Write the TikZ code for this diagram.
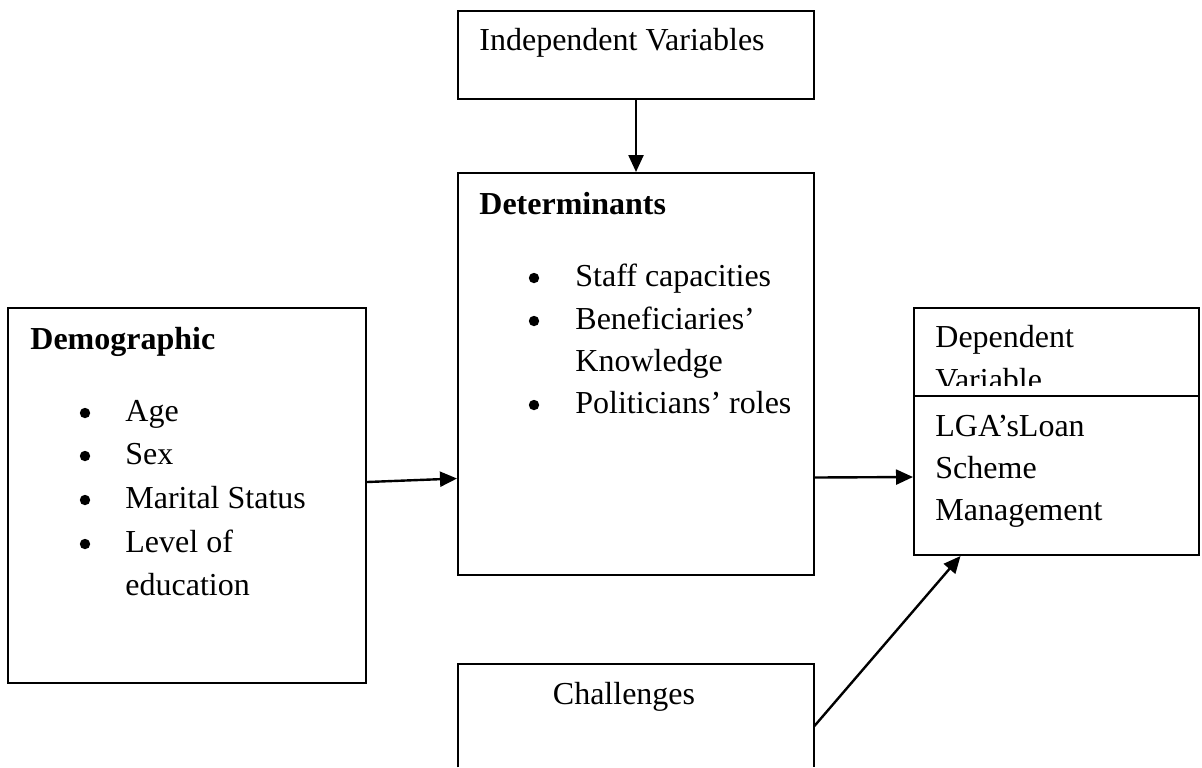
\documentclass[tikz,border=0pt]{standalone}
\usepackage{fontspec}
\setmainfont{Liberation Serif}
\usetikzlibrary{arrows.meta}
\begin{document}
\begin{tikzpicture}[x=0.5pt,y=-0.5pt,
  box/.style={draw=black,line width=1pt,inner sep=0pt},
  open/.style={inner sep=0pt},
  txt/.style={anchor=base west,inner sep=0pt,font=\fontsize{16pt}{21.5pt}\selectfont},
  btxt/.style={txt,font=\fontsize{16pt}{21.5pt}\selectfont\bfseries},
  bul/.style={circle,fill=black,inner sep=0pt,minimum size=5.2pt},
  arr/.style={line width=1.2pt,-{Triangle[length=8.5pt,width=7.5pt]}}]
\useasboundingbox (0,0) rectangle (1202,767);
% boxes
\node[box,minimum width=178pt,minimum height=44pt] (ind) at (636,55) {};
\node[box,minimum width=178pt,minimum height=201pt] (det) at (636,374) {};
\node[box,minimum width=179pt,minimum height=187.5pt] (demo) at (187,495.5) {};
\node[box,minimum width=142.5pt,minimum height=44pt] (depT) at (1056.5,352) {};
\node[box,minimum width=142.5pt,minimum height=79.5pt] (depB) at (1056.5,475.5) {};
\node[open,minimum width=178pt,minimum height=51.5pt] (chal) at (636,715.5) {};
\draw[line width=1pt] (chal.south west) |- (chal.north east) -- (chal.south east);
% texts
\node[txt] (tind) at (479,50) {Independent Variables};
\node[btxt] (tdet) at (479,214) {Determinants};
\node[bul] (bd1) at (534,278) {};
\node[txt] (td1) at (575,286) {Staff capacities};
\node[bul] (bd2) at (534,321) {};
\node[txt] (td2) at (575,329) {Beneficiaries’};
\node[txt] (td3) at (575,371) {Knowledge};
\node[bul] (bd3) at (534,405) {};
\node[txt] (td4) at (575,413) {Politicians’ roles};
\node[btxt] (tdemo) at (30,349) {Demographic};
\node[bul] (bm1) at (85,413) {};
\node[txt] (tm1) at (125,421) {Age};
\node[bul] (bm2) at (85,456) {};
\node[txt] (tm2) at (125,464) {Sex};
\node[bul] (bm3) at (85,500) {};
\node[txt] (tm3) at (125,508) {Marital Status};
\node[bul] (bm4) at (85,544) {};
\node[txt] (tm4) at (125,552) {Level of};
\node[txt] (tm5) at (125,595) {education};
\node[txt] (tdep1) at (935,347) {Dependent};
\begin{scope}
\clip (914,300) rectangle (1199,385.5);
\node[txt] (tdep2) at (935,390) {Variable};
\end{scope}
\node[txt] (tl1) at (935,436) {LGA’sLoan};
\node[txt] (tl2) at (935,478) {Scheme};
\node[txt] (tl3) at (935,520) {Management};
\node[anchor=base,inner sep=0pt,font=\fontsize{16pt}{21.5pt}\selectfont] (tchal) at (624,704) {Challenges};
% connectors
\draw[arr] (ind.south) -- (det.north);
\draw[arr] ([yshift=6.75pt]demo.east) -- ([yshift=-52.25pt]det.west);
\draw[arr] ([yshift=-51.75pt]det.east) -- ([yshift=-0.75pt]depB.west);
\draw[arr] ([yshift=-5.25pt]chal.east) -- ([xshift=-48pt]depB.south);
\end{tikzpicture}
\end{document}
